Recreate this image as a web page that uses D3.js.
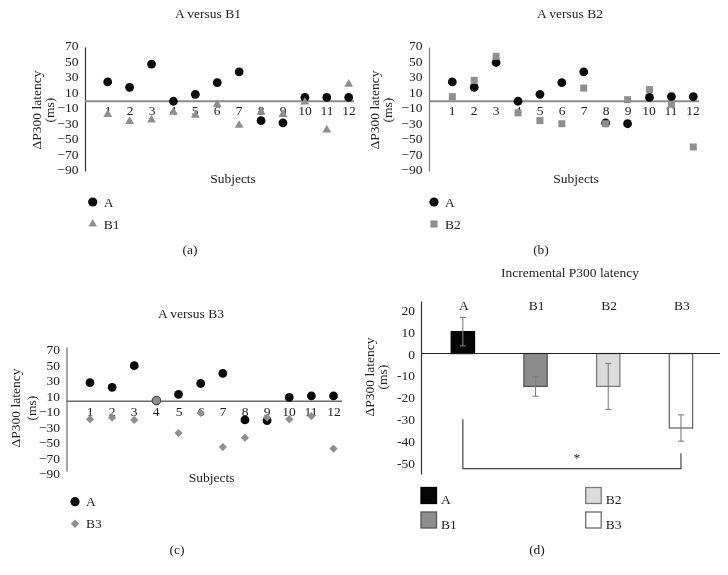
<!DOCTYPE html>
<html><head><meta charset="utf-8">
<script src="https://cdn.jsdelivr.net/npm/d3@7"></script>
<style>
body{margin:0;background:#fff;}
svg{display:block;background:#fff;will-change:transform;}
text{font-family:"Liberation Serif","Times New Roman",serif;fill:#222;}
</style></head>
<body><svg id="c" width="728" height="575"></svg>
<script>
// ---------- data ----------
const subjects = [1,2,3,4,5,6,7,8,9,10,11,12];
const scatterTicks = [70,50,30,10,-10,-30,-50,-70,-90];
const aVsB1_A  = [25, 18, 48, 0, 9, 24, 38, -25, -28, 5, 5, 5];
const aVsB1_B1 = [-17, -26, -24, -14, -18, -4, -31, -14, -17, -1, -37, 22];
const aVsB2_A  = [25, 18, 50, 0, 9, 24, 38, -28, -29, 5, 6, 6];
const aVsB2_B2 = [6, 27, 58, -15, -25, -29, 17, -29, 2, 15, -4, -59];
const aVsB3_A  = [24, 18, 46, 1, 9, 23, 36, -24, -25, 5, 7, 7];
const aVsB3_B3 = [-23, -21, -24, 1, -41, -15, -59, -47, -21, -23, -19, -61];
const groups = ["A","B1","B2","B3"];
const meanLatency = [10, -15, -15, -34];
const errLatency = [6.5, 4.5, 10.5, 6];
const barTicks = [20,10,0,-10,-20,-30,-40,-50];
const sigPair = ["A","B3"];
const sigLevels = {leftTop:-30, rightTop:-45.5, base:-52.5, star:-46};

const svg = d3.select("#c");
const FS = 13.5;
const TXT = "#1e1e1e";

function label(g, x, y, s, anchor){
  return g.append("text").attr("x",x).attr("y",y).attr("text-anchor",anchor||"middle")
    .attr("dominant-baseline","central").attr("font-size",FS).attr("fill",TXT).text(s);
}

function scatterPanel(cfg){
  const g = svg.append("g");
  const y = d3.scaleLinear().domain([-90,70]).range([cfg.y0 + 90*0.775, cfg.y0 - 70*0.775]);
  const x = d3.scaleLinear().domain([1,12]).range(cfg.xr);
  label(g, cfg.title[0], cfg.title[1], cfg.titleText);
  const ya = d3.axisLeft(y).tickValues(scatterTicks).tickSize(0).tickPadding(6.5).tickFormat(d=>d<0?"\u2212"+(-d):d);
  const ag = g.append("g").attr("transform",`translate(${cfg.axisX},0)`).call(ya);
  ag.select(".domain").attr("stroke",cfg.axisColor).attr("stroke-width",1.2);
  ag.selectAll("text").attr("font-size",FS).attr("font-family","Liberation Serif").attr("fill",TXT)
    .attr("dy",null).attr("dominant-baseline","central").attr("transform",`translate(0,${cfg.labelNudge})`);
  g.append("line").attr("x1",cfg.axisX).attr("x2",cfg.zeroEnd).attr("y1",y(0)).attr("y2",y(0))
    .attr("stroke",cfg.zeroColor).attr("stroke-width",cfg.zeroWidth);
  g.selectAll("text.sub").data(subjects).enter().append("text").attr("class","sub")
    .attr("x",d=>Math.round(x(d))).attr("y",y(0)+cfg.subDy).attr("text-anchor","middle").attr("dominant-baseline","central")
    .attr("font-size",FS).attr("fill",TXT).text(d=>d);
  g.append("text").attr("transform",`translate(${cfg.yTitleX[0]},${cfg.yTitleY}) rotate(-90)`).attr("text-anchor","middle")
    .attr("dominant-baseline","central").attr("font-size",FS).attr("fill",TXT).text("\u0394P300 latency");
  g.append("text").attr("transform",`translate(${cfg.yTitleX[1]},${cfg.yTitleY}) rotate(-90)`).attr("text-anchor","middle")
    .attr("dominant-baseline","central").attr("font-size",FS).attr("fill",TXT).text("(ms)");
  label(g, cfg.subjects[0], cfg.subjects[1], "Subjects");
  g.selectAll("circle.a").data(cfg.A).enter().append("circle").attr("class","a")
    .attr("cx",(d,i)=>x(subjects[i])).attr("cy",d=>y(d)).attr("r",4.4).attr("fill","#0a0a0a");
  const isSpecial = i => cfg.specialCircle && i===cfg.specialCircle.index;
  const sym = d3.symbol().type(cfg.symType).size(cfg.symSize);
  g.selectAll("path.b").data(cfg.B).enter().append("path").attr("class","b")
    .attr("d",(d,i)=> isSpecial(i) ? d3.symbol().type(d3.symbolCircle).size(58)() : sym())
    .attr("transform",(d,i)=>`translate(${x(subjects[i])},${y(d)})` + ((cfg.rot && !isSpecial(i))?" rotate(45)":""))
    .attr("fill","#8f8f8f")
    .attr("stroke",(d,i)=>isSpecial(i)?"#444":"none")
    .attr("stroke-width",1);
  g.append("circle").attr("cx",cfg.leg[0]).attr("cy",cfg.leg[1]).attr("r",4.6).attr("fill","#0a0a0a");
  label(g, cfg.leg[0]+11, cfg.leg[1], "A", "start");
  g.append("path").attr("d",d3.symbol().type(cfg.symType).size(cfg.legSymSize)())
    .attr("transform",`translate(${cfg.leg[0]},${cfg.leg[1]+22})`+(cfg.rot?" rotate(45)":"")).attr("fill","#8f8f8f");
  label(g, cfg.leg[0]+11, cfg.leg[1]+22, cfg.bName, "start");
  label(g, cfg.letter[0], cfg.letter[1], cfg.letterText);
}

scatterPanel({titleText:"A versus B1", title:[208,13.5], y0:101.25, xr:[107.7,348.7], axisX:85, zeroEnd:354,
  axisColor:"#333", zeroColor:"#8a8a8a", zeroWidth:2, labelNudge:-2, subDy:9,
  yTitleX:[36,49], yTitleY:110, subjects:[233,178.5], A:aVsB1_A, B:aVsB1_B1, symType:d3.symbolTriangle, symSize:34, legSymSize:32,
  leg:[92.7,202], bName:"B1", letter:[190,249], letterText:"(a)"});
scatterPanel({titleText:"A versus B2", title:[570,13.5], y0:101.25, xr:[452.3,693.3], axisX:429, zeroEnd:699,
  axisColor:"#7a7a7a", zeroColor:"#8a8a8a", zeroWidth:2, labelNudge:-2, subDy:9,
  yTitleX:[374,387.5], yTitleY:110, subjects:[576,178.5], A:aVsB2_A, B:aVsB2_B2, symType:d3.symbolSquare, symSize:49, legSymSize:52,
  leg:[434,202], bName:"B2", letter:[541,249.5], letterText:"(b)"});
scatterPanel({titleText:"A versus B3", title:[191,313.5], y0:401.3, xr:[90,333.5], axisX:66.5, zeroEnd:342,
  axisColor:"#6a6a6a", zeroColor:"#6a6a6a", zeroWidth:1.5, labelNudge:2, subDy:10,
  yTitleX:[15,31], yTitleY:408, subjects:[211.7,477], A:aVsB3_A, B:aVsB3_B3, symType:d3.symbolSquare, symSize:34, legSymSize:36, rot:true,
  specialCircle:{index:3},
  leg:[75,501.7], bName:"B3", letter:[177,549.5], letterText:"(c)"});

// ---------- bar panel (d) ----------
(function(){
  const g = svg.append("g");
  const y = d3.scaleLinear().domain([-55,24]).range([474,301]);
  const x = d3.scaleBand().domain(groups).range([426.5,717.3]).paddingInner(0.68).paddingOuter(0.34);
  const fills = ["#050505","#8c8c8c","#dcdcdc","#ffffff"];
  const strokes = ["#000","#555","#7a7a7a","#6a6a6a"];
  label(g, 570, 272, "Incremental P300 latency");
  const ya = d3.axisLeft(y).tickValues(barTicks).tickSize(0).tickPadding(6).tickFormat(d=>d<0?"-"+(-d):d);
  const ag = g.append("g").attr("transform","translate(421,0)").call(ya);
  ag.select(".domain").attr("stroke","#333").attr("stroke-width",1.2);
  ag.selectAll("text").attr("font-size",FS).attr("font-family","Liberation Serif").attr("fill",TXT)
    .attr("dy",null).attr("dominant-baseline","central");
  g.append("text").attr("transform","translate(369,377) rotate(-90)").attr("text-anchor","middle")
    .attr("dominant-baseline","central").attr("font-size",FS).attr("fill",TXT).text("\u0394P300 latency");
  g.append("text").attr("transform","translate(382,377) rotate(-90)").attr("text-anchor","middle")
    .attr("dominant-baseline","central").attr("font-size",FS).attr("fill",TXT).text("(ms)");
  g.selectAll("rect.bar").data(meanLatency).enter().append("rect").attr("class","bar")
    .attr("x",(d,i)=>x(groups[i])).attr("width",x.bandwidth())
    .attr("y",d=>y(Math.max(0,d))).attr("height",d=>Math.abs(y(d)-y(0)))
    .attr("fill",(d,i)=>fills[i]).attr("stroke",(d,i)=>strokes[i]).attr("stroke-width",1.3);
  g.append("line").attr("x1",421).attr("x2",720).attr("y1",y(0)).attr("y2",y(0)).attr("stroke","#222").attr("stroke-width",1.1);
  g.selectAll("text.grp").data(groups).enter().append("text").attr("class","grp")
    .attr("x",d=>x(d)+x.bandwidth()/2+1).attr("y",305).attr("text-anchor","middle").attr("dominant-baseline","central")
    .attr("font-size",FS).attr("fill",TXT).text(d=>d);
  const eg = g.append("g").attr("stroke","#7f7f7f").attr("stroke-width",1.1);
  meanLatency.forEach((m,i)=>{
    const cx = x(groups[i])+x.bandwidth()/2;
    const e = errLatency[i];
    eg.append("line").attr("x1",cx).attr("x2",cx).attr("y1",y(m+e)).attr("y2",y(m-e));
    eg.append("line").attr("x1",cx-3).attr("x2",cx+3).attr("y1",y(m+e)).attr("y2",y(m+e));
    eg.append("line").attr("x1",cx-3).attr("x2",cx+3).attr("y1",y(m-e)).attr("y2",y(m-e));
  });
  const xl = x(sigPair[0])+x.bandwidth()/2, xr = x(sigPair[1])+x.bandwidth()/2;
  g.append("path").attr("d",`M${xl},${y(sigLevels.leftTop)}V${y(sigLevels.base)}H${xr}V${y(sigLevels.rightTop)}`)
    .attr("fill","none").attr("stroke","#444").attr("stroke-width",1.2);
  g.append("text").attr("x",(xl+xr)/2+5).attr("y",y(sigLevels.star)+3).attr("text-anchor","middle").attr("dominant-baseline","central")
    .attr("font-size",FS).attr("fill","#777").text("*");
  const legPos = [[421,487.5],[421,512],[585.7,487.5],[585.7,512]];
  groups.forEach((gname,i)=>{
    g.append("rect").attr("x",legPos[i][0]).attr("y",legPos[i][1]).attr("width",15.5).attr("height",16)
      .attr("fill",fills[i]).attr("stroke",strokes[i]).attr("stroke-width",1.3);
    g.append("text").attr("x",legPos[i][0]+20).attr("y",legPos[i][1]+16.5).attr("font-size",FS).attr("fill",TXT).text(gname);
  });
  label(g, 537, 549, "(d)");
})();
</script></body></html>
